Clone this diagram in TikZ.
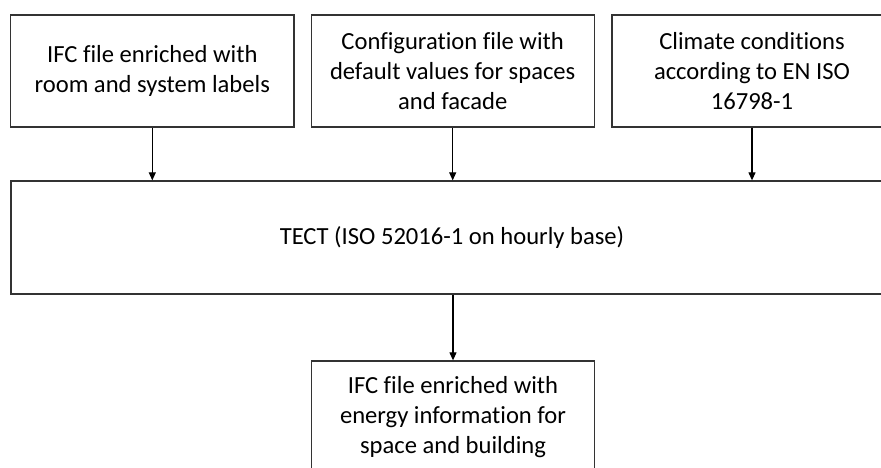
\documentclass[tikz,border=0pt]{standalone}
\usepackage{fontspec}
\setmainfont[Ligatures={NoCommon}]{Carlito}
\usetikzlibrary{arrows.meta}
\begin{document}
\begin{tikzpicture}[x=1pt,y=-1pt,
  box/.style={draw=black!80, line width=1.3pt, rectangle, align=center, inner sep=0pt,
    font=\fontsize{24.6}{30}\selectfont},
  arr/.style={draw=black, line width=1.1pt, -{Triangle[length=8pt,width=7pt]}}]
\useasboundingbox (0,0) rectangle (881,467);
\clip (0,0) rectangle (881,467);
\node[box, minimum width=283.3pt, minimum height=112pt] (in1) at (152.3,71) {IFC file enriched with\\room and system labels};
\node[box, minimum width=283pt, minimum height=112pt] (in2) at (452.7,71) {Configuration file with\\default values for spaces\\and facade};
\node[box, minimum width=280pt, minimum height=112pt] (in3) at (752,71) {Climate conditions\\according to EN ISO\\16798-1};
\node[box, minimum width=882pt, minimum height=113pt] (tect) at (452,237.5) {TECT (ISO 52016-1 on hourly base)};
\node[box, minimum width=283pt, minimum height=112pt] (out) at (453,417) {IFC file enriched with\\energy information for\\space and building};
\draw[arr] (in1.south) -- (in1.south |- tect.north);
\draw[arr] (in2.south) -- (in2.south |- tect.north);
\draw[arr] (in3.south) -- (in3.south |- tect.north);
\draw[arr] (tect.south -| out.north) -- (out.north);
\end{tikzpicture}
\end{document}
